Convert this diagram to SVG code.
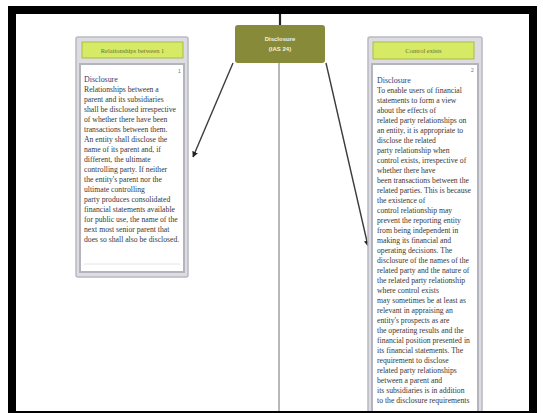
<svg xmlns="http://www.w3.org/2000/svg" width="543" height="413" viewBox="0 0 543 413">
<defs>
<style>
.frame{fill:#ffffff;stroke:#000;stroke-width:8}
.card{fill:#dcdce2;stroke:#b9b9c2;stroke-width:1.5}
.head{fill:#d6ea66;stroke:#aabb44;stroke-width:1}
.body{fill:#ffffff;stroke:#b4b4bd;stroke-width:2}
.ht{font-family:"Liberation Serif",serif;font-size:6.5px;fill:#6b7430;text-anchor:middle}
.tx{font-family:"Liberation Serif",serif;font-size:7.7px;fill:#383838}
.tt{font-family:"Liberation Serif",serif;font-size:7.9px;fill:#2e3e78}
.num{font-family:"Liberation Sans",sans-serif;font-size:5px;fill:#777}
.nt{font-family:"Liberation Sans",sans-serif;font-size:6px;fill:#f2f2e4;text-anchor:middle;font-weight:bold}
.conn{stroke:#3c3c3c;stroke-width:1.4;fill:none}
</style>
<marker id="ah" viewBox="0 0 10 10" refX="9" refY="5" markerWidth="6" markerHeight="6" orient="auto" markerUnits="userSpaceOnUse">
<path d="M0,0 L10,5 L0,10 z" fill="#222"/>
</marker>
<clipPath id="inside"><rect x="16" y="14" width="515" height="397"/></clipPath>
</defs>
<rect x="0" y="0" width="543" height="413" fill="#ffffff"/>
<rect class="frame" x="12" y="10" width="521" height="405"/>

<g id="connectors">
<line x1="280" y1="14" x2="280" y2="25" stroke="#222" stroke-width="2.2"/>
<line x1="279" y1="63" x2="279" y2="411" stroke="#b8b8b8" stroke-width="2"/>
<line class="conn" x1="233" y1="63" x2="193" y2="157" marker-end="url(#ah)"/>
<line class="conn" x1="326" y1="63" x2="368" y2="246" marker-end="url(#ah)"/>
</g>

<g id="node-disclosure">
<rect x="235" y="25" width="90" height="38" rx="3" fill="#878a38"/>
<text class="nt" x="280" y="41">Disclosure</text>
<text class="nt" x="280" y="51">(IAS 24)</text>
</g>

<g id="node-left">
<rect class="card" x="76" y="37" width="112" height="240" rx="2"/>
<rect class="head" x="82" y="42" width="101" height="16"/>
<text class="ht" x="132.5" y="52.5">Relationships between 1</text>
<rect class="body" x="80" y="64" width="104" height="208"/>
<text class="num" x="178" y="73">1</text>
<text class="tt" x="84" y="82">Disclosure</text>
<text class="tx" x="84" y="92">Relationships between a</text>
<text class="tx" x="84" y="102">parent and its subsidiaries</text>
<text class="tx" x="84" y="112">shall be disclosed irrespective</text>
<text class="tx" x="84" y="122">of whether there have been</text>
<text class="tx" x="84" y="132">transactions between them.</text>
<text class="tx" x="84" y="142">An entity shall disclose the</text>
<text class="tx" x="84" y="152">name of its parent and, if</text>
<text class="tx" x="84" y="162">different, the ultimate</text>
<text class="tx" x="84" y="172">controlling party. If neither</text>
<text class="tx" x="84" y="182">the entity's parent nor the</text>
<text class="tx" x="84" y="192">ultimate controlling</text>
<text class="tx" x="84" y="202">party produces consolidated</text>
<text class="tx" x="84" y="212">financial statements available</text>
<text class="tx" x="84" y="222">for public use, the name of the</text>
<text class="tx" x="84" y="232">next most senior parent that</text>
<text class="tx" x="84" y="242">does so shall also be disclosed.</text>
<line x1="84" y1="264" x2="180" y2="264" stroke="#e4e4e8" stroke-width="1"/>
</g>

<g id="node-right" clip-path="url(#inside)">
<rect class="card" x="368" y="37" width="114" height="390" rx="2"/>
<rect class="head" x="373" y="42" width="101" height="17"/>
<text class="ht" x="423.5" y="52.5">Control exists</text>
<rect class="body" x="372" y="64" width="106" height="360"/>
<text class="num" x="471" y="72">2</text>
<text class="tt" x="377" y="83">Disclosure</text>
<text class="tx" x="377" y="93">To enable users of financial</text>
<text class="tx" x="377" y="103">statements to form a view</text>
<text class="tx" x="377" y="113">about the effects of</text>
<text class="tx" x="377" y="123">related party relationships on</text>
<text class="tx" x="377" y="133">an entity, it is appropriate to</text>
<text class="tx" x="377" y="143">disclose the related</text>
<text class="tx" x="377" y="153">party relationship when</text>
<text class="tx" x="377" y="163">control exists, irrespective of</text>
<text class="tx" x="377" y="173">whether there have</text>
<text class="tx" x="377" y="183">been transactions between the</text>
<text class="tx" x="377" y="193">related parties. This is because</text>
<text class="tx" x="377" y="203">the existence of</text>
<text class="tx" x="377" y="213">control relationship may</text>
<text class="tx" x="377" y="223">prevent the reporting entity</text>
<text class="tx" x="377" y="233">from being independent in</text>
<text class="tx" x="377" y="243">making its financial and</text>
<text class="tx" x="377" y="253">operating decisions. The</text>
<text class="tx" x="377" y="263">disclosure of the names of the</text>
<text class="tx" x="377" y="273">related party and the nature of</text>
<text class="tx" x="377" y="283">the related party relationship</text>
<text class="tx" x="377" y="293">where control exists</text>
<text class="tx" x="377" y="303">may sometimes be at least as</text>
<text class="tx" x="377" y="313">relevant in appraising an</text>
<text class="tx" x="377" y="323">entity's prospects as are</text>
<text class="tx" x="377" y="333">the operating results and the</text>
<text class="tx" x="377" y="343">financial position presented in</text>
<text class="tx" x="377" y="353">its financial statements. The</text>
<text class="tx" x="377" y="363">requirement to disclose</text>
<text class="tx" x="377" y="373">related party relationships</text>
<text class="tx" x="377" y="383">between a parent and</text>
<text class="tx" x="377" y="393">its subsidiaries is in addition</text>
<text class="tx" x="377" y="403">to the disclosure requirements</text>
</g>
</svg>
